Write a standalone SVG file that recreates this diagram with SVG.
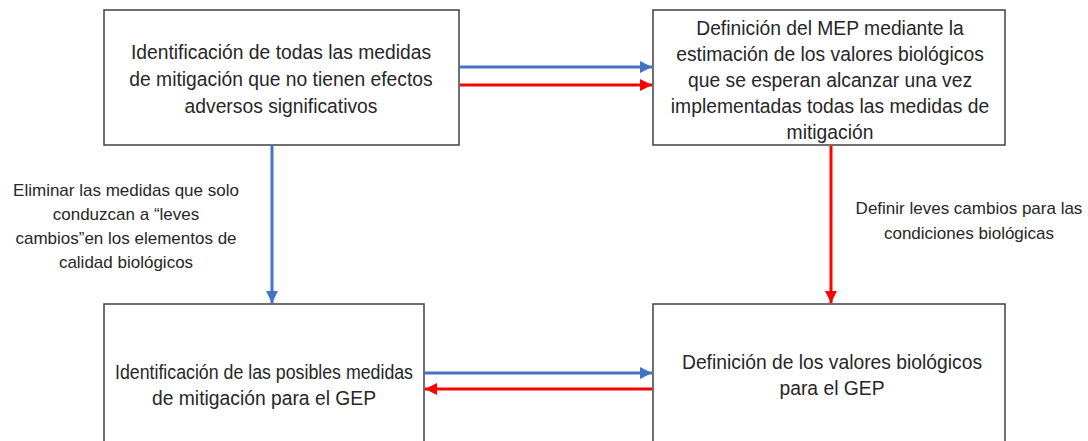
<svg xmlns="http://www.w3.org/2000/svg" width="1088" height="441" viewBox="0 0 1088 441">
<style>
.box{fill:#fff;stroke:#404040;stroke-width:1.5}
.t{font-family:"Liberation Sans",Arial,sans-serif;font-size:19.3px;fill:#262626;text-anchor:middle}
.l{font-family:"Liberation Sans",Arial,sans-serif;font-size:17px;fill:#262626;text-anchor:middle}
.b{stroke:#4472C4;stroke-width:3;fill:none}
.r{stroke:#FF0000;stroke-width:3;fill:none}
</style>
<defs>
<marker id="ab" viewBox="0 0 10 10" refX="10" refY="5" markerWidth="4" markerHeight="4" orient="auto" markerUnits="strokeWidth"><path d="M0,0 L10,5 L0,10 z" fill="#4472C4"/></marker>
<marker id="ar" viewBox="0 0 10 10" refX="10" refY="5" markerWidth="4" markerHeight="4" orient="auto" markerUnits="strokeWidth"><path d="M0,0 L10,5 L0,10 z" fill="#FF0000"/></marker>
</defs>
<rect width="1088" height="441" fill="#fff"/>
<g id="n1">
<rect class="box" x="104" y="10" width="355" height="135"/>
<text class="t" x="281" y="59">Identificación de todas las medidas</text>
<text class="t" x="281" y="86">de mitigación que no tienen efectos</text>
<text class="t" x="281" y="113">adversos significativos</text>
</g>
<g id="n2">
<rect class="box" x="653" y="10" width="352" height="135"/>
<text class="t" x="830" y="35">Definición del MEP mediante la</text>
<text class="t" x="830" y="61">estimación de los valores biológicos</text>
<text class="t" x="830" y="87">que se esperan alcanzar una vez</text>
<text class="t" x="830" y="113">implementadas todas las medidas de</text>
<text class="t" x="830" y="139">mitigación</text>
</g>
<g id="n3">
<rect class="box" x="104" y="304" width="320" height="145"/>
<text class="t" x="264" y="379" textLength="298" lengthAdjust="spacingAndGlyphs">Identificación de las posibles medidas</text>
<text class="t" x="264" y="405">de mitigación para el GEP</text>
</g>
<g id="n4">
<rect class="box" x="653" y="304" width="352" height="145"/>
<text class="t" x="832" y="369">Definición de los valores biológicos</text>
<text class="t" x="832" y="395">para el GEP</text>
</g>
<g id="connectors">
<line class="b" x1="460" y1="67" x2="652" y2="67" marker-end="url(#ab)"/>
<line class="r" x1="460" y1="85" x2="652" y2="85" marker-end="url(#ar)"/>
<line class="b" x1="272" y1="146" x2="272" y2="303" marker-end="url(#ab)"/>
<line class="r" x1="831" y1="146" x2="831" y2="303" marker-end="url(#ar)"/>
<line class="b" x1="425" y1="373" x2="652" y2="373" marker-end="url(#ab)"/>
<line class="r" x1="652" y1="389" x2="425" y2="389" marker-end="url(#ar)"/>
</g>
<g id="labels">
<text class="l" x="126" y="196">Eliminar las medidas que solo</text>
<text class="l" x="126" y="220">conduzcan a “leves</text>
<text class="l" x="126" y="244">cambios”en los elementos de</text>
<text class="l" x="126" y="268">calidad biológicos</text>
<text class="l" x="969" y="214">Definir leves cambios para las</text>
<text class="l" x="969" y="239">condiciones biológicas</text>
</g>
</svg>
